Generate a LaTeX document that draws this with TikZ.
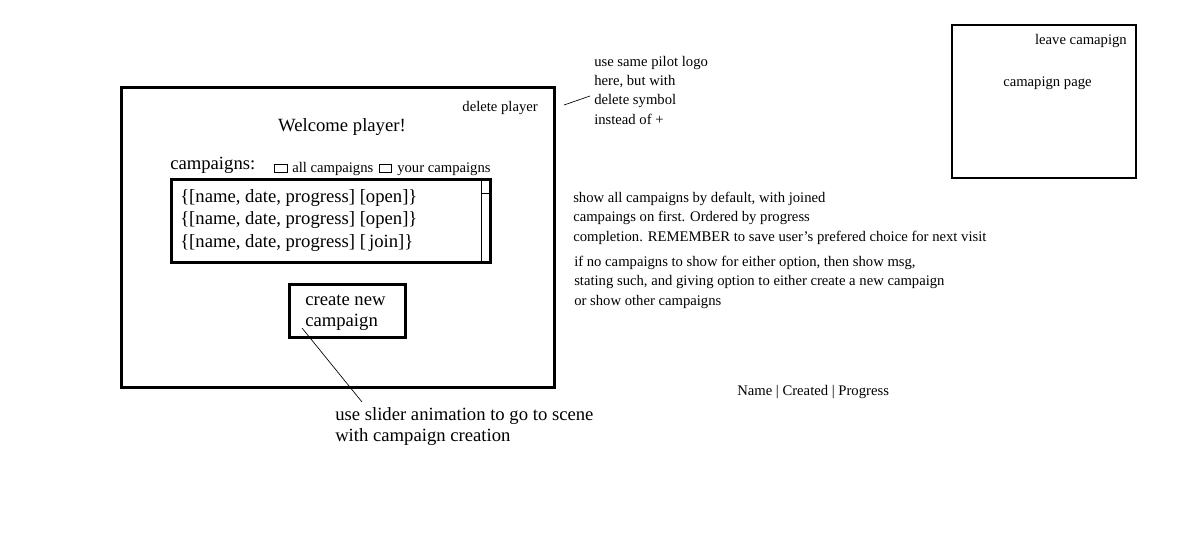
\documentclass[tikz,border=0pt]{standalone}
\usepackage{fontspec}
\setmainfont{Liberation Serif}
\begin{document}
\begin{tikzpicture}
    [ x=0.75pt, y=-0.75pt
    , every node/.style={inner sep=0pt}
    , frame/.style={draw, line width=2.25pt}
    , thinbox/.style={draw, line width=0.9pt}
    , small/.style={font=\fontsize{11}{14.4}\selectfont, align=left}
    , big/.style={font=\fontsize{14}{15.5}\selectfont, align=left}
    ]
\useasboundingbox (0,0) rectangle (1184,536);
% main player screen
\draw[frame] (121,87) rectangle (554,387);
\node[small, anchor=base east] (delplayer) at (538,111) {delete player};
\node[big, anchor=base] (welcome) at (342,131) {Welcome player!};
\node[big, anchor=base west] (campaigns) at (170,169) {campaigns:};
\draw[thinbox, line width=0.7pt] (274,164) rectangle (287,172);
\node[small, anchor=base west] (allcamp) at (292,172) {all campaigns};
\draw[thinbox, line width=0.7pt] (379,164) rectangle (391,172);
\node[small, anchor=base west] (yourcamp) at (397,172) {your campaigns};
% campaign list with scroll bar
\draw[frame] (171,179) rectangle (490,262);
\draw[line width=0.75pt] (481,179) -- (481,262) (481,193) -- (490,193);
\foreach \y/\act [count=\i] in {202/open, 224/open, 247/{\,join}}
    \node[big, anchor=base west] (row\i) at (180,\y) {\{[name, date, progress] [\act]\}};
% create button
\draw[frame] (289,284) rectangle (405,337);
\node[big, anchor=base west] (create) at (305,326) {create new\\campaign};
\node[big, anchor=base west] (slider) at (335,441) {use slider animation to go to scene\\with campaign creation};
\coordinate (sliderfrom) at (302,328);
\coordinate (sliderto) at (362,402);
\draw[line width=0.5pt] (sliderfrom) -- (sliderto);
% notes
\node[small, anchor=base west] (pilot) at (594,124) {use same pilot logo\\here, but with\\delete symbol\\instead of +};
\coordinate (pilotfrom) at (564,105);
\coordinate (pilotto) at (590,96);
\draw[line width=0.5pt] (pilotfrom) -- (pilotto);
\node[small, anchor=base west] (default) at (573,241) {show all campaigns by default, with joined\\campaings on first. Ordered by progress\\completion. REMEMBER to save user's prefered choice for next visit};
\node[small, anchor=base west] (nomsg) at (574,305) {if no campaigns to show for either option, then show msg,\\stating such, and giving option to either create a new campaign\\or show other campaigns};
\node[small, anchor=base west] (columns) at (737,395) {Name | Created | Progress};
% campaign page
\draw[thinbox] (952,25) rectangle (1136,178);
\node[small, anchor=base east] (leave) at (1127,44) {leave camapign};
\node[small, anchor=base west] (page) at (1003,86) {camapign page};
\end{tikzpicture}
\end{document}
